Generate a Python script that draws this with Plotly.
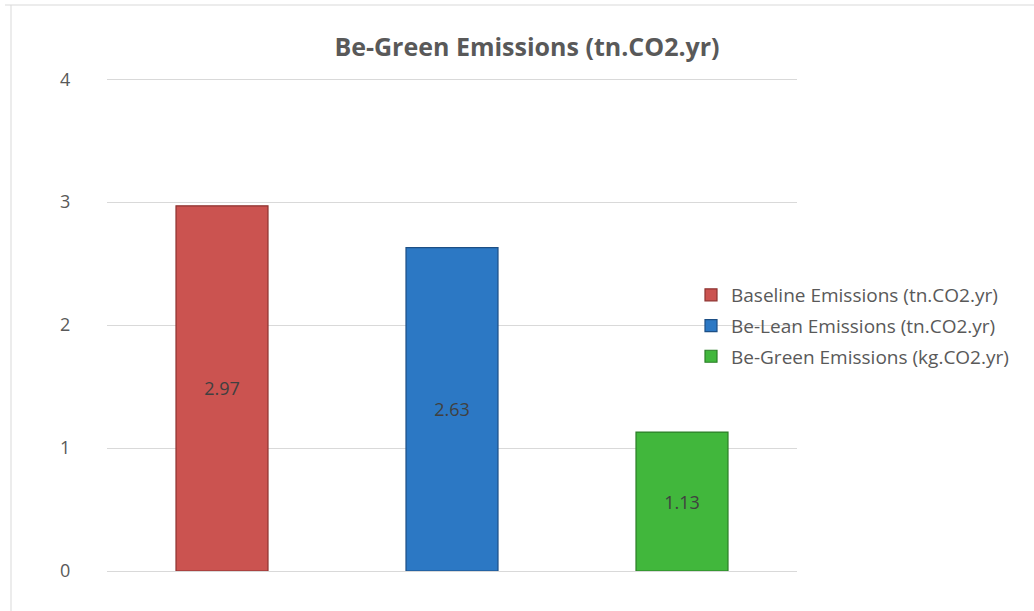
import plotly.graph_objects as go

# Emission series, one bar per scenario
series_names = [
    "Baseline Emissions (tn.CO2.yr)",
    "Be-Lean Emissions (tn.CO2.yr)",
    "Be-Green Emissions (kg.CO2.yr)",
]
categories = ["Baseline", "Be-Lean", "Be-Green"]
values = [2.97, 2.63, 1.13]
colors = ["#CB5350", "#2C78C4", "#41B73C"]
edge_colors = ["#8E3330", "#1D4F85", "#2B7E27"]

W, H = 1034, 611
Y_MAX = 4.01
L, R, B = 107, 237, 40
T = 79 - round(492 * (Y_MAX - 4) / 4)

FONT = "Open Sans"
GREY = "#595959"

fig = go.Figure()
for name, cat, val, col, edge in zip(series_names, categories, values, colors, edge_colors):
    fig.add_trace(go.Bar(
        name=name,
        legendgroup=cat,
        x=[cat],
        y=[val],
        width=0.4,
        marker=dict(color=col, line=dict(color=edge, width=1.2)),
        text=[f"{val:.2f}"],
        textposition="inside",
        insidetextanchor="middle",
        textfont=dict(family=FONT, size=18, color="#404040"),
        hoverinfo="skip",
    ))

pw = W - L - R
ph = H - T - B
fig.update_layout(
    width=W, height=H,
    margin=dict(l=L, r=R, t=T, b=B),
    paper_bgcolor="white",
    plot_bgcolor="white",
    barmode="overlay",
    title=dict(
        text="<b>Be-Green Emissions (tn.CO2.yr)</b>",
        x=527 / W, xanchor="center",
        y=1 - 47 / H, yanchor="middle",
        font=dict(family=FONT, size=25, color=GREY),
    ),
    xaxis=dict(
        categoryorder="array", categoryarray=categories,
        showticklabels=False, showgrid=False, zeroline=False,
        showline=False, ticks="",
    ),
    yaxis=dict(
        range=[0, Y_MAX], tickvals=[0, 1, 2, 3, 4],
        showgrid=True, gridcolor="#D9D9D9", gridwidth=1,
        zeroline=True, zerolinecolor="#D9D9D9", zerolinewidth=1,
        showline=False,
        ticks="outside", ticklen=32, tickcolor="rgba(0,0,0,0)",
        tickfont=dict(family=FONT, size=18, color=GREY),
    ),
    legend=dict(
        x=(691 - L) / pw, xanchor="left",
        y=(H - B - 326) / ph, yanchor="middle",
        font=dict(family=FONT, size=19, color=GREY),
        tracegroupgap=3,
        bgcolor="rgba(0,0,0,0)",
    ),
    showlegend=True,
)

# Chart area border (top and left edges visible)
fig.add_shape(type="line", xref="paper", yref="paper",
              x0=(5 - L) / pw, x1=(W - L) / pw,
              y0=(H - B - 5) / ph, y1=(H - B - 5) / ph,
              line=dict(color="#D9D9D9", width=1))
fig.add_shape(type="line", xref="paper", yref="paper",
              x0=(11 - L) / pw, x1=(11 - L) / pw,
              y0=(H - B - 5) / ph, y1=(H - B - H) / ph,
              line=dict(color="#D9D9D9", width=1))

fig.write_html("out.html")
